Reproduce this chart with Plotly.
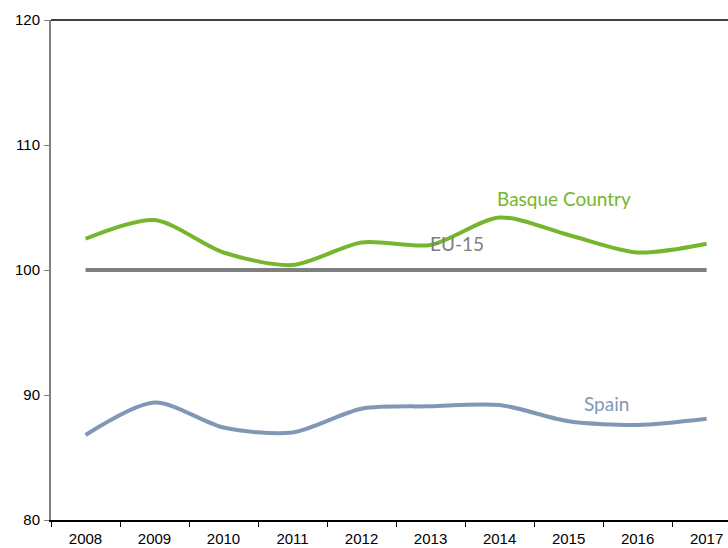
import plotly.graph_objects as go

years = ["2008", "2009", "2010", "2011", "2012", "2013", "2014", "2015", "2016", "2017"]
basque = [102.5, 104.0, 101.4, 100.4, 102.2, 102.0, 104.2, 102.8, 101.4, 102.1]
spain = [86.8, 89.4, 87.4, 87.0, 88.9, 89.1, 89.2, 87.9, 87.6, 88.1]
eu15 = [100, 100, 100, 100, 100, 100, 100, 100, 100, 100]
y_ticks = [80, 90, 100, 110, 120]

fig = go.Figure()
fig.add_trace(go.Scatter(x=years, y=eu15, mode="lines", name="EU-15",
                         line=dict(color="#7f7f7f", width=4)))
fig.add_trace(go.Scatter(x=years, y=basque, mode="lines", name="Basque Country",
                         line=dict(color="#77b52e", width=4, shape="spline", smoothing=0.8)))
fig.add_trace(go.Scatter(x=years, y=spain, mode="lines", name="Spain",
                         line=dict(color="#8197b5", width=4, shape="spline", smoothing=0.8)))

ann_font = "Lato, Open Sans, sans-serif"
fig.add_annotation(x=6.94, y=105.7, text="Basque Country", showarrow=False,
                   font=dict(family=ann_font, size=19, color="#77b52e"))
fig.add_annotation(x=5.39, y=102.1, text="EU-15", showarrow=False,
                   font=dict(family=ann_font, size=19, color="#7f7f7f"))
fig.add_annotation(x=7.55, y=89.3, text="Spain", showarrow=False,
                   font=dict(family=ann_font, size=19, color="#8197b5"))

fig.update_layout(
    width=728, height=548,
    margin=dict(l=51, r=0, t=20, b=28, autoexpand=False),
    paper_bgcolor="white", plot_bgcolor="white",
    showlegend=False,
    font=dict(family="Liberation Sans, Arial, sans-serif", size=15, color="black"),
)
fig.update_xaxes(type="category", range=[-0.5, 9.31], showgrid=False, automargin=False,
                 showline=True, linecolor="black", linewidth=1.5, mirror=False,
                 ticks="outside", ticklen=5, tickcolor="black",
                 tickson="boundaries", ticklabelstandoff=4)
fig.update_yaxes(range=[80, 120], tickvals=y_ticks, showgrid=False, automargin=False,
                 showline=True, linecolor="#808080", linewidth=2,
                 ticks="outside", ticklen=5, tickcolor="#808080", zeroline=False,
                 ticklabelstandoff=1)
# top border of plot area
fig.add_shape(type="line", xref="paper", yref="paper", x0=0, x1=1, y0=1, y1=1,
              line=dict(color="black", width=1.5))

fig.write_html("out.html", config={"displayModeBar": False},
               post_script="document.body.style.margin='0';document.body.style.overflow='hidden';")
